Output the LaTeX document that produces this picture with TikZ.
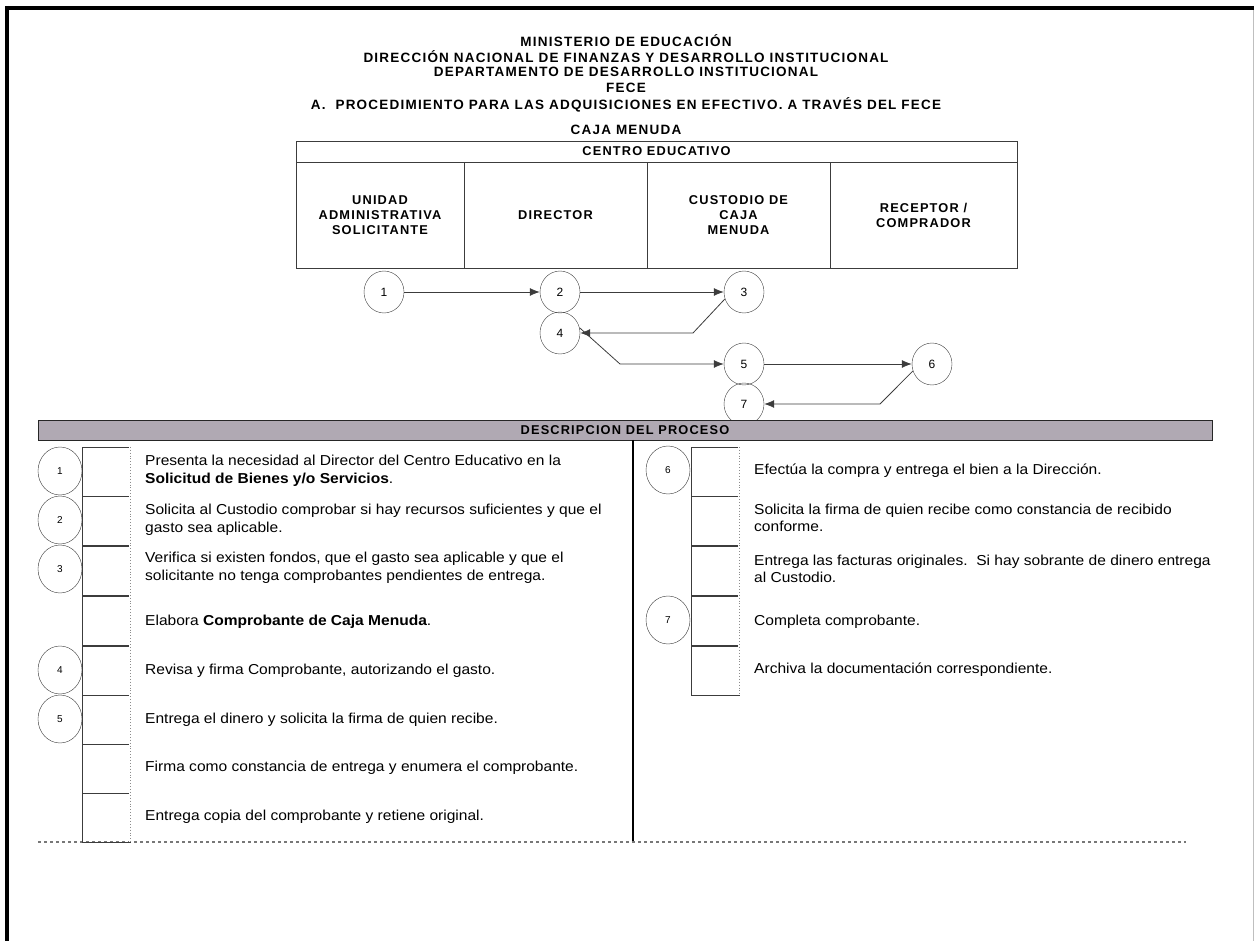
\documentclass[tikz,border=0pt]{standalone}
\usepackage{fontspec}
\setmainfont{Liberation Sans}
\newfontfamily\angosta[LetterSpace=9]{Liberation Sans}
\newfontfamily\ancha[FakeStretch=1.08]{Liberation Sans}
\usetikzlibrary{shapes.geometric,arrows.meta}
\definecolor{barra}{RGB}{176,169,179}
\definecolor{linea}{RGB}{60,60,60}
\tikzset{paso/.style={ellipse,draw=linea,minimum width=40pt,minimum height=42pt,inner sep=0pt,font=\fontsize{12}{14}\selectfont}}
\tikzset{num/.style={ellipse,draw=linea,minimum width=44pt,minimum height=48pt,inner sep=0pt,font=\fontsize{10}{12}\selectfont}}
\tikzset{casilla/.style={rectangle,draw=linea,minimum width=48pt,minimum height=49pt,inner sep=0pt}}
\tikzset{borde/.style={draw=black!45,dotted,line width=0.9pt}}
\tikzset{titulo/.style={font=\angosta\bfseries\fontsize{13.5}{15}\selectfont,inner sep=0pt}}
\tikzset{celda/.style={rectangle,draw=linea,inner sep=0pt,align=center,font=\angosta\bfseries\fontsize{12.8}{15}\selectfont}}
\tikzset{desc/.style={anchor=west,inner sep=0pt,align=left,font=\ancha\fontsize{14.4}{17.5}\selectfont}}
\tikzset{flecha/.style={draw=linea,line width=0.8pt,-{Latex[length=10pt,width=8pt]}}}

\begin{document}
\begin{tikzpicture}[x=1pt,y=-1pt]
      \useasboundingbox (0,0) rectangle (1254,941);
      % marco
      \draw[line width=4pt] (7,8) -- (1254,8);
      \draw[line width=4pt] (7,6) -- (7,941);
      \draw[black!25] (1253,10) -- (1253,941);
      % encabezado
      \node[titulo] (t1) at (626,41) {MINISTERIO DE EDUCACIÓN};
      \node[titulo] (t2) at (626,56.5) {DIRECCIÓN NACIONAL DE FINANZAS Y DESARROLLO INSTITUCIONAL};
      \node[titulo] (t3) at (626,72) {DEPARTAMENTO DE DESARROLLO INSTITUCIONAL};
      \node[titulo] (t4) at (626,87.5) {FECE};
      \node[titulo] (t5) at (626,105) {A.\ \ PROCEDIMIENTO PARA LAS ADQUISICIONES EN EFECTIVO. A TRAVÉS DEL FECE};
      \node[titulo] (t6) at (626,130) {CAJA MENUDA};
      % tabla de unidades
      \node[celda,minimum width=721pt,minimum height=21pt] (centro) at (656.5,151.5) {CENTRO EDUCATIVO};
      \node[celda,minimum width=168pt,minimum height=106pt] (uas) at (380,215) {UNIDAD\\ADMINISTRATIVA\\SOLICITANTE};
      \node[celda,minimum width=183pt,minimum height=106pt] (dir) at (555.5,215) {DIRECTOR};
      \node[celda,minimum width=183pt,minimum height=106pt] (cus) at (738.5,215) {CUSTODIO DE\\CAJA\\MENUDA};
      \node[celda,minimum width=187pt,minimum height=106pt] (rec) at (923.5,215) {RECEPTOR /\\COMPRADOR};
      % flujo
      \node[paso] (p1) at (384,292) {1};
      \node[paso] (p2) at (560,292) {2};
      \node[paso] (p3) at (744,292) {3};
      \node[paso] (p4) at (560,333) {4};
      \node[paso] (p5) at (744,364) {5};
      \node[paso] (p6) at (932,364) {6};
      \node[paso] (p7) at (744,404) {7};
      \coordinate (k34) at (693,333);
      \coordinate (k45) at (620,364);
      \coordinate (k67) at (880,404);
      \draw[flecha] (p1) -- (p2);
      \draw[flecha] (p2) -- (p3);
      \draw[flecha] (p3.200) -- (k34) -- (p4.east);
      \draw[flecha] (p4.15) -- (k45) -- (p5.west);
      \draw[flecha] (p5) -- (p6);
      \draw[flecha] (p6.200) -- (k67) -- (p7.east);
      % descripcion
      \node[rectangle,draw=black!85,fill=barra,minimum width=1174pt,minimum height=20pt,inner sep=0pt,
        font=\angosta\bfseries\fontsize{12.8}{15}\selectfont] (barra) at (625,430) {DESCRIPCION DEL PROCESO};
      \draw[line width=2pt] (633,440) -- (633,842);
      \draw[linea!70,dashed,line width=1.5pt] (38,842) -- (1186,842);
      % columna izquierda
      \node[casilla] (a1) at (106,471.5) {};
      \node[casilla] (a2) at (106,521) {};
      \node[casilla] (a3) at (106,570.5) {};
      \node[casilla] (a4) at (106,620.5) {};
      \node[casilla] (a5) at (106,670.5) {};
      \node[casilla] (a6) at (106,719.5) {};
      \node[casilla] (a7) at (106,768.5) {};
      \node[casilla] (a8) at (106,817.5) {};
      \draw[white,line width=1.5pt] (a1.north east) -- (a8.south east);
      \draw[borde] (a1.north east) -- (a8.south east);
      \node[num] (n1) at (60,471) {1};
      \node[num] (n2) at (60,520) {2};
      \node[num] (n3) at (60,569) {3};
      \node[num] (n4) at (60,670) {4};
      \node[num] (n5) at (60,719) {5};
      \node[desc] (d1) at (145,471) {Presenta la necesidad al Director del Centro Educativo en la\\\textbf{Solicitud de Bienes y/o Servicios}.};
      \node[desc] (d2) at (145,520) {Solicita al Custodio comprobar si hay recursos suficientes y que el\\gasto sea aplicable.};
      \node[desc] (d3) at (145,568) {Verifica si existen fondos, que el gasto sea aplicable y que el\\solicitante no tenga comprobantes pendientes de entrega.};
      \node[desc] (d4) at (145,622) {Elabora \textbf{Comprobante de Caja Menuda}.};
      \node[desc] (d5) at (145,671) {Revisa y firma Comprobante, autorizando el gasto.};
      \node[desc] (d6) at (145,720) {Entrega el dinero y solicita la firma de quien recibe.};
      \node[desc] (d7) at (145,768) {Firma como constancia de entrega y enumera el comprobante.};
      \node[desc] (d8) at (145,817) {Entrega copia del comprobante y retiene original.};
      % columna derecha
      \node[casilla] (b1) at (715,471.5) {};
      \node[casilla] (b2) at (715,521) {};
      \node[casilla] (b3) at (715,570.5) {};
      \node[casilla] (b4) at (715,620.5) {};
      \node[casilla] (b5) at (715,670.5) {};
      \draw[white,line width=1.5pt] (b1.north east) -- (b5.south east);
      \draw[borde] (b1.north east) -- (b5.south east);
      \node[num] (n6) at (668,470) {6};
      \node[num] (n7) at (668,620) {7};
      \node[desc] (e1) at (754,471) {Efectúa la compra y entrega el bien a la Dirección.};
      \node[desc] (e2) at (754,518) {Solicita la firma de quien recibe como constancia de recibido\\conforme.};
      \node[desc] (e3) at (754,569) {Entrega las facturas originales.\ \ Si hay sobrante de dinero entrega\\al Custodio.};
      \node[desc] (e4) at (754,622) {Completa comprobante.};
      \node[desc] (e5) at (754,670) {Archiva la documentación correspondiente.};
    \end{tikzpicture}
\end{document}
